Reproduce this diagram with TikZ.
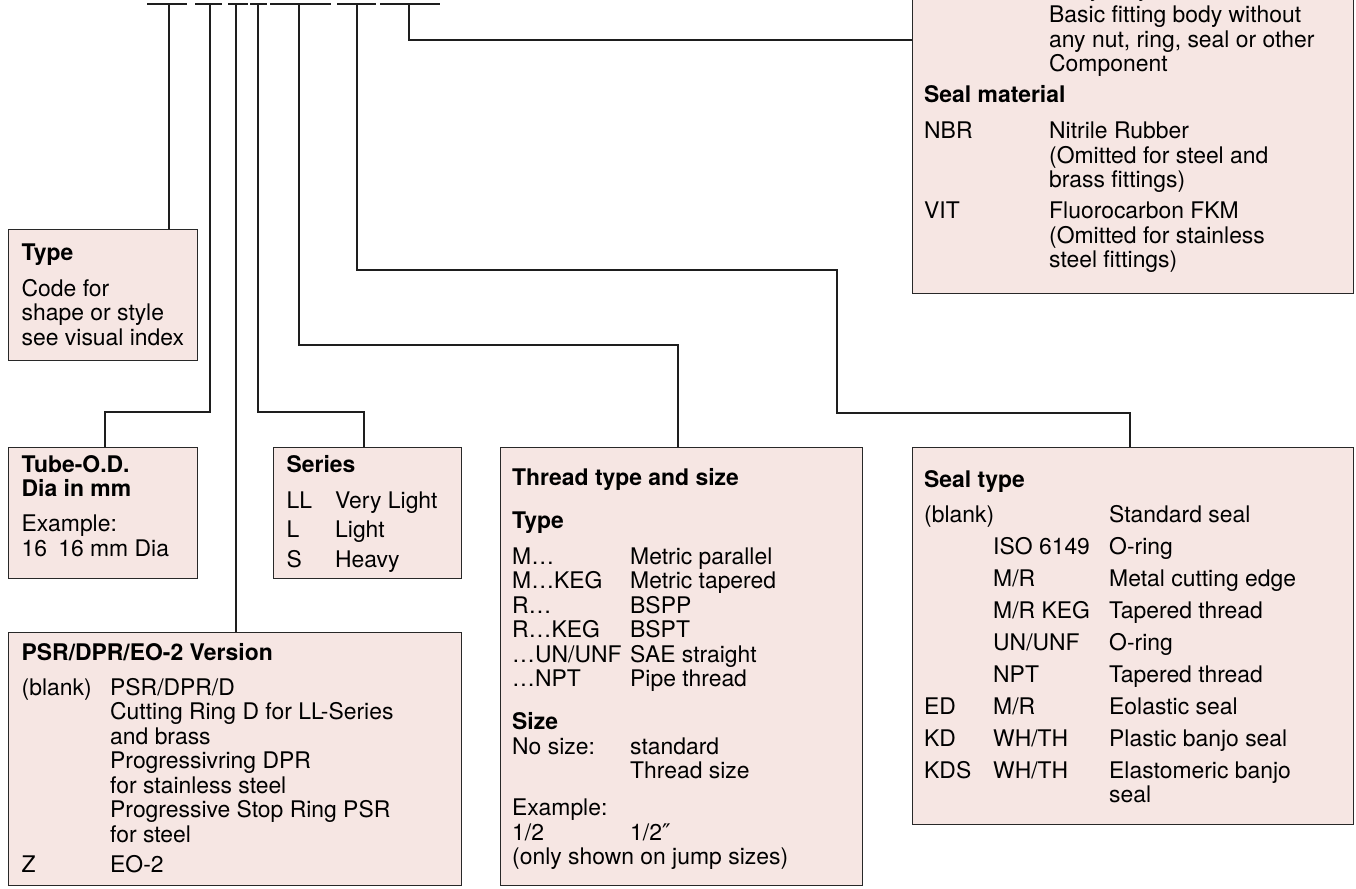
\documentclass[tikz,border=0pt]{standalone}
\usepackage{fontspec}
\setmainfont{TeX Gyre Heros}
\newfontfamily\dejavu{DejaVu Sans}
\definecolor{boxfill}{RGB}{246,230,227}
\definecolor{boxline}{RGB}{40,40,40}
\definecolor{linkcol}{RGB}{30,30,30}
\newcommand{\kc}[2]{\makebox[#1][l]{#2}}
\begin{document}
\begin{tikzpicture}[x=1pt,y=-1pt,
  box/.style={draw=boxline, fill=boxfill, line width=1.2pt, rectangle, inner sep=0pt, anchor=north west},
  link/.style={draw=linkcol, line width=1.2pt},
  bar/.style={draw=linkcol, line width=1.4pt},
  txt/.style={anchor=base west, inner sep=0pt, text=black, font={\fontsize{22.9}{24.5}\selectfont}}
]
\useasboundingbox (0,0) rectangle (1356,888);
\clip (0,0) rectangle (1356,888);

% boxes
\node[box, minimum width=441pt, minimum height=323pt] (body) at (912,-30) {};
\node[box, minimum width=189pt, minimum height=131pt] (type) at (8,229) {};
\node[box, minimum width=189pt, minimum height=131pt] (tube) at (8,447) {};
\node[box, minimum width=188pt, minimum height=131pt] (series) at (273,447) {};
\node[box, minimum width=453pt, minimum height=253pt] (psr) at (8,632) {};
\node[box, minimum width=362pt, minimum height=438pt] (thread) at (500,447) {};
\node[box, minimum width=441pt, minimum height=377pt] (seal) at (912,447) {};

% code bars
\draw[bar] (147,4) -- (187,4);
\draw[bar] (195,4) -- (222,4);
\draw[bar] (228,4) -- (248,4);
\draw[bar] (250,4) -- (267,4);
\draw[bar] (270,4) -- (331,4);
\draw[bar] (337,4) -- (376,4);
\draw[bar] (380,4) -- (440,4);

\coordinate (b1) at (169,4);
\coordinate (b2) at (210,4);
\coordinate (b3) at (236,4);
\coordinate (b4) at (258,4);
\coordinate (b5) at (299,4);
\coordinate (b6) at (357,4);
\coordinate (b7) at (409,4);

\coordinate (j2) at (105,412);
\coordinate (j4) at (364,412);
\coordinate (j5) at (678,345);
\coordinate (j6a) at (837,270);
\coordinate (j6b) at (1130,413);
\coordinate (j7) at (409,40);

% connectors
\draw[link] (b1) -- (b1 |- type.north);
\draw[link] (b2) |- (j2) -- (j2 |- tube.north);
\draw[link] (b3) -- (b3 |- psr.north);
\draw[link] (b4) |- (j4) -- (j4 |- series.north);
\draw[link] (b5) |- (j5) -- (j5 |- thread.north);
\draw[link] (b6) |- (j6a) |- (j6b) -- (j6b |- seal.north);
\draw[link] (b7) |- (j7 -| body.west);

% texts
\node[txt] (bodytxt) at (924,-3) {\begin{tabular}[t]{@{}l@{}}
\kc{125pt}{}Body only\\[1.2pt]
\kc{125pt}{}Basic fitting body without\\
\kc{125pt}{}any nut, ring, seal or other\\
\kc{125pt}{}Component\\[6pt]
\textbf{Seal material}\\[12pt]
\kc{125pt}{NBR}Nitrile Rubber\\
\kc{125pt}{}(Omitted for steel and\\
\kc{125pt}{}brass fittings)\\[6.5pt]
\kc{125pt}{VIT}Fluorocarbon FKM\\
\kc{125pt}{}(Omitted for stainless\\
\kc{125pt}{}steel fittings)
\end{tabular}};

\node[txt] (typetxt) at (21.5,260) {\begin{tabular}[t]{@{}l@{}}
\textbf{Type}\\[11.5pt]
Code for\\
shape or style\\
see visual index
\end{tabular}};

\node[txt] (tubetxt) at (21.5,472) {\begin{tabular}[t]{@{}l@{}}
\textbf{Tube-O.D.}\\
\textbf{Dia in mm}\\[10.5pt]
Example:\\
\kc{36.6pt}{16}16 mm Dia
\end{tabular}};

\node[txt] (seriestxt) at (286.5,472) {\begin{tabular}[t]{@{}l@{}}
\textbf{Series}\\[11.5pt]
\kc{48.5pt}{LL}Very Light\\[4.5pt]
\kc{48.5pt}{L}Light\\[5.5pt]
\kc{48.5pt}{S}Heavy
\end{tabular}};

\node[txt] (psrtxt) at (21.5,660) {\begin{tabular}[t]{@{}l@{}}
\textbf{PSR/DPR/EO-2 Version}\\[10.5pt]
\kc{88.5pt}{(blank)}PSR/DPR/D\\
\kc{88.5pt}{}Cutting Ring D for LL-Series\\
\kc{88.5pt}{}and brass\\
\kc{88.5pt}{}Progressivring DPR\\
\kc{88.5pt}{}for stainless steel\\
\kc{88.5pt}{}Progressive Stop Ring PSR\\
\kc{88.5pt}{}for steel\\[6pt]
\kc{88.5pt}{Z}EO-2
\end{tabular}};

\node[txt] (threadtxt) at (512,485) {\begin{tabular}[t]{@{}l@{}}
\textbf{Thread type and size}\\[18.5pt]
\textbf{Type}\\[11.5pt]
\kc{118pt}{M…}Metric parallel\\
\kc{118pt}{M…KEG}Metric tapered\\
\kc{118pt}{R…}BSPP\\
\kc{118pt}{R…KEG}BSPT\\
\kc{118pt}{…UN/UNF}SAE straight\\
\kc{118pt}{…NPT}Pipe thread\\[18.5pt]
\textbf{Size}\\
\kc{118pt}{No size:}standard\\
\kc{118pt}{}Thread size\\[12.5pt]
Example:\\
\kc{118pt}{1/2}1/2{\dejavu ″}\\
(only shown on jump sizes)
\end{tabular}};

\node[txt] (sealtxt) at (924,487) {\begin{tabular}[t]{@{}l@{}}
\textbf{Seal type}\\[10.5pt]
\kc{185pt}{(blank)}Standard seal\\[7.5pt]
\kc{69pt}{}\kc{116pt}{ISO 6149}O-ring\\[7.5pt]
\kc{69pt}{}\kc{116pt}{M/R}Metal cutting edge\\[7.5pt]
\kc{69pt}{}\kc{116pt}{M/R KEG}Tapered thread\\[7.5pt]
\kc{69pt}{}\kc{116pt}{UN/UNF}O-ring\\[7.5pt]
\kc{69pt}{}\kc{116pt}{NPT}Tapered thread\\[7.5pt]
\kc{69pt}{ED}\kc{116pt}{M/R}Eolastic seal\\[7.5pt]
\kc{69pt}{KD}\kc{116pt}{WH/TH}Plastic banjo seal\\[7.5pt]
\kc{69pt}{KDS}\kc{116pt}{WH/TH}Elastomeric banjo\\
\kc{185pt}{}seal
\end{tabular}};
\end{tikzpicture}
\end{document}
